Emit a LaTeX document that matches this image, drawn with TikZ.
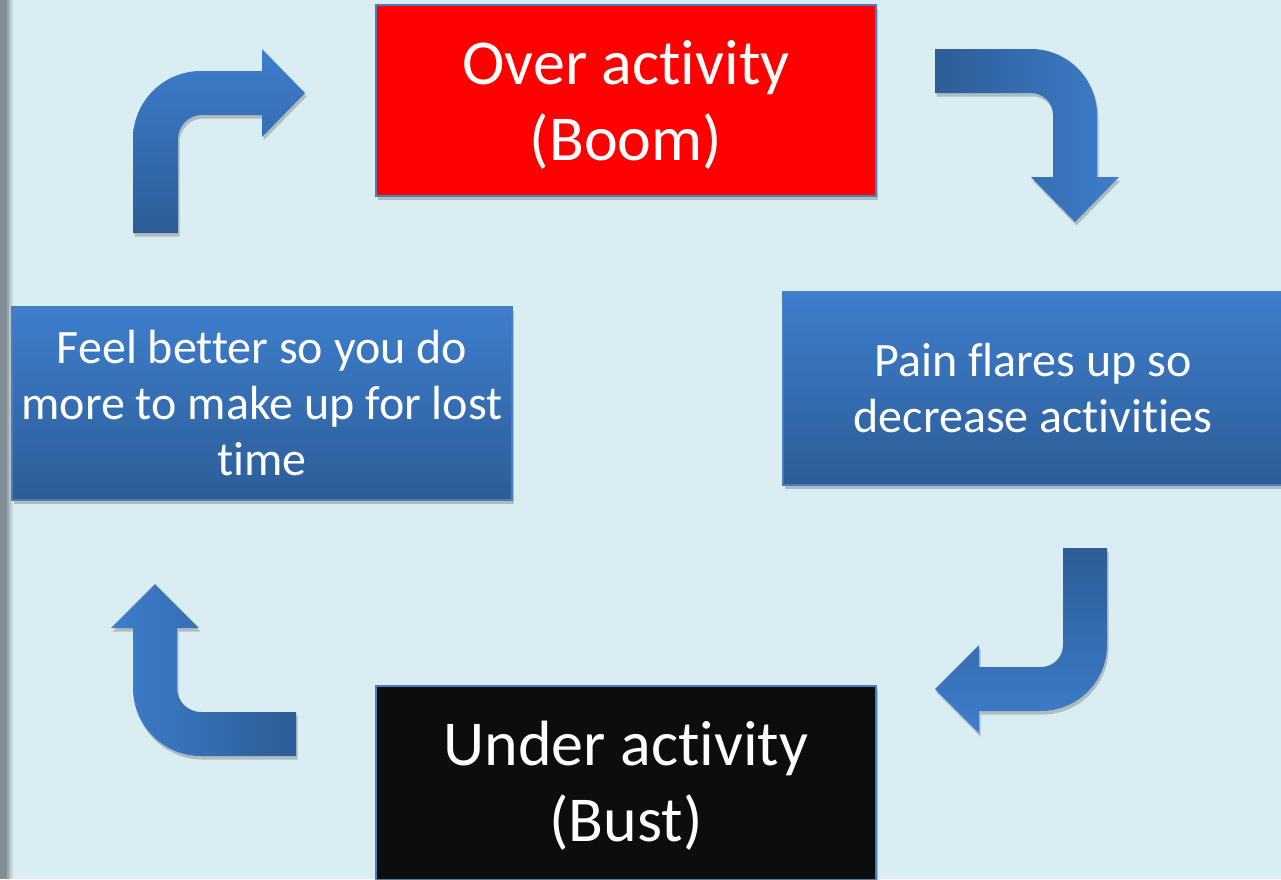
\documentclass[tikz,border=0pt]{standalone}
\usepackage{fontspec}
\setmainfont{Carlito}[Ligatures={NoCommon}]
\usetikzlibrary{shadows}
\definecolor{bg}{HTML}{DAEDF3}
\definecolor{blueL}{HTML}{3E7ECC}
\definecolor{blueD}{HTML}{2C5D97}
\definecolor{boxborder}{HTML}{4A7EBB}
\definecolor{nearblack}{HTML}{0D0D0D}
\definecolor{stripA}{HTML}{808D95}
\definecolor{stripB}{HTML}{9CA9B0}
\definecolor{stripC}{HTML}{B6C4CA}
\definecolor{stripD}{HTML}{CADADF}
\begin{document}
\begin{tikzpicture}[x=1pt,y=-1pt,
  shadowed/.style={drop shadow={shadow xshift=1.5pt,shadow yshift=-3.5pt,opacity=.3,fill=black!70}},
  box/.style={draw=boxborder,line width=1.2pt,text=white,align=center,inner sep=0pt,
    minimum width=500pt,shadowed},
  bigbox/.style={box,minimum height=191pt,font=\fontsize{64}{76}\selectfont},
  bluebox/.style={box,minimum height=193pt,top color=blueL,bottom color=blueD,
    font=\fontsize{48}{56}\selectfont},
  bentarrow/.style={draw=none,shadowed}]
\useasboundingbox (0,0) rectangle (1281,879);
\fill[bg] (0,0) rectangle (1281,879);
\fill[stripD] (0,0) rectangle (13,879);
\fill[stripC] (0,0) rectangle (11,879);
\fill[stripB] (0,0) rectangle (9,879);
\fill[stripA] (0,0) rectangle (7,879);

% boxes
\node[bigbox,fill=red] (over) at (626,100.5) {};
\node[text=white,align=center,font=\fontsize{64}{76}\selectfont] (overtext) at (626,105) {Over activity\\(Boom)};
\node[bigbox,fill=nearblack,minimum height=194pt] (under) at (626,783) {};
\node[text=white,align=center,font=\fontsize{64}{76}\selectfont] (undertext) at (626,786) {Under activity\\(Bust)};
\node[bluebox] (pain) at (1033,388.5) {Pain flares up so\\decrease activities};
\node[bluebox] (feel) at (262,403.5) {Feel better so you do\\more to make up for lost\\time};

% arrow 1: up then right (top-left)
\shade[bentarrow,top color=blueL,bottom color=blueD]
  (133,233) -- (133,139) .. controls (133,101.4) and (163.4,71) .. (201,71)
  -- (262,71) -- (262,49) -- (305,93) -- (262,137) -- (262,115) -- (202,115)
  .. controls (188.7,115) and (178,125.7) .. (178,139) -- (178,233) -- cycle;

% arrow 2: right then down (top-right)
\shade[bentarrow,left color=blueD,right color=blueL]
  (935,49) -- (1031,49) .. controls (1067.5,49) and (1097,78.5) .. (1097,115)
  -- (1097,177) -- (1119,177) -- (1075,222) -- (1031,177) -- (1053,177)
  -- (1053,115) .. controls (1053,102.8) and (1043.2,93) .. (1031,93)
  -- (935,93) -- cycle;

% arrow 3: down then left (bottom-right)
\shade[bentarrow,top color=blueD,bottom color=blueL]
  (1063,548) -- (1107,548) -- (1107,645) .. controls (1107,681.5) and (1077.5,711) .. (1041,711)
  -- (979,711) -- (979,733) -- (935,689) -- (979,645) -- (979,667) -- (1041,667)
  .. controls (1053.2,667) and (1063,657.2) .. (1063,645) -- cycle;

% arrow 4: left then up (bottom-left)
\shade[bentarrow,left color=blueL,right color=blueD]
  (296,712) -- (296,756) -- (201,756) .. controls (163.4,756) and (133,725.6) .. (133,688)
  -- (133,628) -- (111,628) -- (155,584) -- (199,628) -- (177,628) -- (177,688)
  .. controls (177,701.3) and (187.7,712) .. (201,712) -- cycle;
\end{tikzpicture}
\end{document}
